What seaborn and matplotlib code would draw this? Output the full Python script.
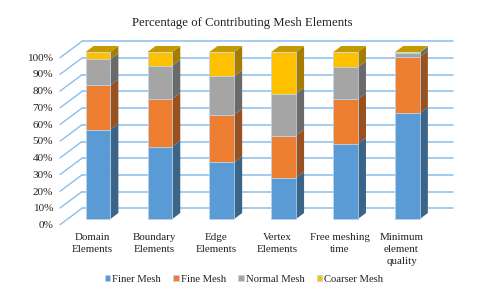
import numpy as np
import matplotlib
matplotlib.use("Agg")
import matplotlib.pyplot as plt
from matplotlib.transforms import ScaledTranslation
import seaborn as sns

kategoriler = ["Domain\nElements", "Boundary\nElements", "Edge\nElements",
               "Vertex\nElements", "Free meshing\ntime", "Minimum\nelement\nquality"]
finer = [53.5, 43.3, 33.9, 24.8, 45.1, 63.3]
fine = [26.5, 28.7, 28.5, 25.1, 26.7, 33.7]
normal = [15.6, 19.8, 23.0, 25.1, 19.2, 2.6]
coarser = [4.4, 8.2, 14.6, 25.0, 9.0, 0.4]
seriler = ["Finer Mesh", "Fine Mesh", "Normal Mesh", "Coarser Mesh"]
yuzde_etiket = [f"{i}%" for i in range(0, 101, 10)]

renkler = ["#5B9BD5", "#ED7D31", "#A5A5A5", "#FFC000"]
yan_renkler = ["#3B6489", "#995120", "#6A6A6A", "#A67D00"]
ust_renk = "#C49A00"
grid_renk = "#8DBFEA"

sns.set_style("white")
plt.rcParams["font.family"] = ["Liberation Serif", "DejaVu Serif"]
W, H = 480, 295
fig = plt.figure(figsize=(W / 100, H / 100), dpi=100)

# ana eksen: çubuklar
ax = fig.add_axes([60 / W, 1 - 224.7 / H, 393 / W, 183.7 / H])
bar_w = 0.4
dx, dy = 0.129, 3.6        # çubuk derinliği
gx, gy = 0.355, 9.8        # duvar / ön kenar arası

x = np.arange(len(kategoriler))
alt = np.zeros(len(x))
for ad, deger, renk, yan in zip(seriler, [finer, fine, normal, coarser], renkler, yan_renkler):
    deger = np.array(deger)
    sns.barplot(x=kategoriler, y=deger, bottom=alt, color=renk, saturation=1, width=bar_w,
                label=ad, edgecolor="#BDD7EE", linewidth=0.5, ax=ax, zorder=3, legend=False)
    for i in x:
        sag = i + bar_w / 2
        ax.fill([sag, sag + dx, sag + dx, sag],
                [alt[i], alt[i] + dy, alt[i] + deger[i] + dy, alt[i] + deger[i]],
                color=yan, lw=0, zorder=2)
    alt = alt + deger

for i in x:
    sol, sag = i - bar_w / 2, i + bar_w / 2
    ax.fill([sol, sag, sag + dx, sol + dx], [alt[i], alt[i], alt[i] + dy, alt[i] + dy],
            color=ust_renk, lw=0, zorder=2)

xmin, xmax = -0.614, 5.735
ymin, ymax = -3.41, 106.6
duvar_x = xmin + gx
for p in range(0, 101, 10):
    duvar_y = p + ymin + gy
    ax.plot([duvar_x, xmax], [duvar_y, duvar_y], color=grid_renk, lw=1.1, zorder=1, clip_on=False)
    ax.plot([xmin, duvar_x], [p + ymin, duvar_y], color=grid_renk, lw=1.0, zorder=1, clip_on=False)

ax.set_xlim(xmin, xmax)
ax.set_ylim(ymin, ymax)
ax.set_yticks([])
ax.tick_params(axis="x", length=0, pad=6, labelsize=7.9)
kaydir = ScaledTranslation(-6 / 100, 0, fig.dpi_scale_trans)
for t in ax.get_xticklabels():
    t.set_color("#222222")
    t.set_linespacing(1.42)
    t.set_transform(t.get_transform() + kaydir)
sns.despine(ax=ax, left=True, bottom=True)
ax.patch.set_alpha(0)

# ön kenar: yüzde etiketleri
ax2 = fig.add_axes([60 / W, 1 - 224.7 / H, 393 / W, 167.7 / H])
ax2.set_ylim(0, 100)
ax2.set_yticks(range(0, 101, 10))
ax2.set_yticklabels(yuzde_etiket, fontsize=8.1, color="#222222")
ax2.set_xticks([])
ax2.tick_params(axis="y", length=0, pad=5)
sns.despine(ax=ax2, left=True, bottom=True)
ax2.patch.set_alpha(0)

fig.text(242 / W, 1 - 22.7 / H, "Percentage of Contributing Mesh Elements",
         ha="center", va="center", fontsize=9.2, color="#222222")

h, l = ax.get_legend_handles_labels()
fig.legend(h[:4], l[:4], loc="center", bbox_to_anchor=(244 / W, 1 - 279 / H), ncol=4, frameon=False,
           fontsize=7.7, handlelength=0.5, handleheight=0.5, handletextpad=0.2, columnspacing=1.15,
           labelcolor="#222222")

fig.savefig("out.png", dpi=100, facecolor="white")
